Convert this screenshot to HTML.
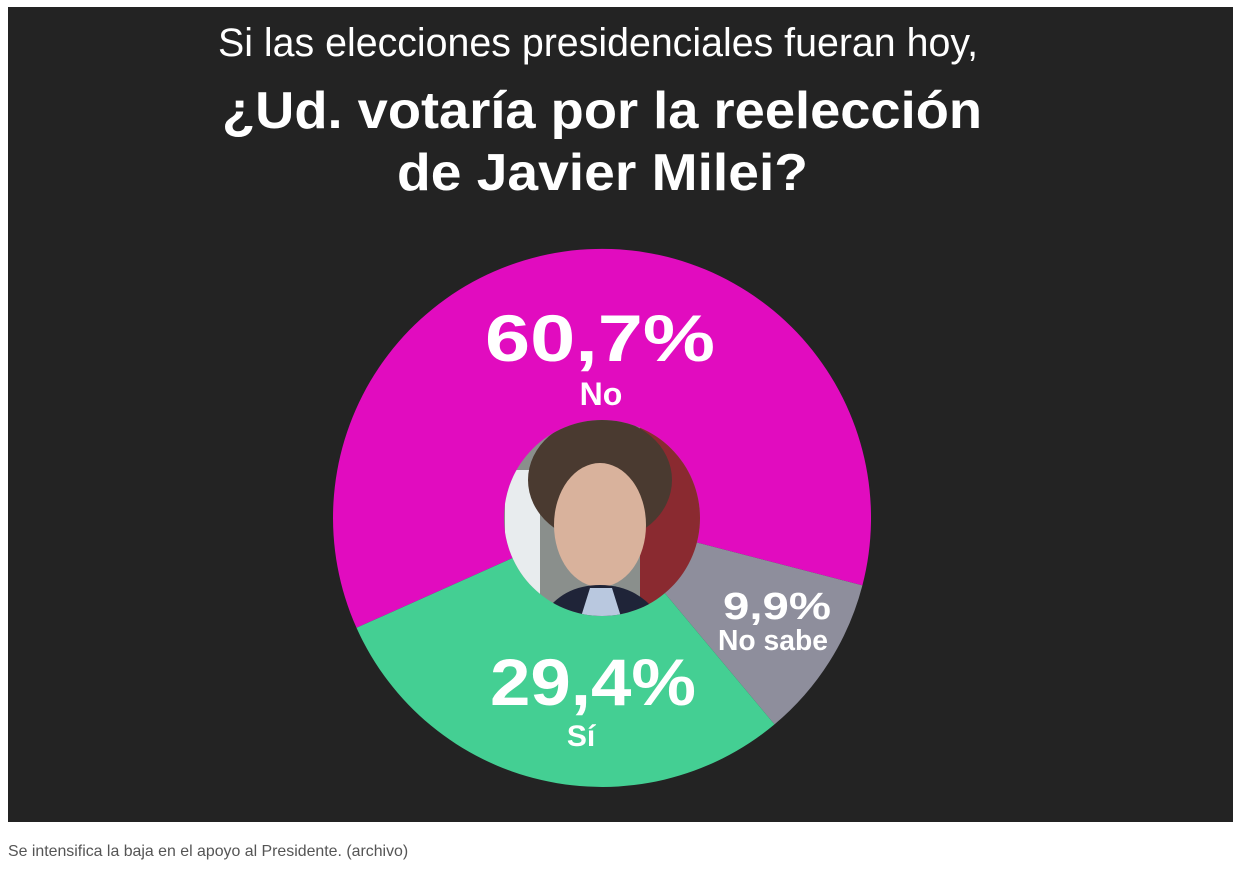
<!DOCTYPE html>
<html><head><meta charset="utf-8"><style>
html,body{margin:0;padding:0;background:#fff;width:1237px;height:880px;overflow:hidden}
svg{position:absolute;left:0;top:0}
.cap{position:absolute;left:8px;top:843px;font:15.9px "Liberation Sans",sans-serif;color:#555}
</style></head><body>
<svg width="1237" height="880" xmlns="http://www.w3.org/2000/svg">
<rect x="8" y="7" width="1225" height="815" fill="#232323"/>
<g font-family="Liberation Sans, sans-serif" fill="#fff" text-anchor="start">
<text x="218" y="56" font-size="40" textLength="760" lengthAdjust="spacingAndGlyphs">Si las elecciones presidenciales fueran hoy,</text>
<text x="222" y="128" font-size="52" font-weight="bold" textLength="760" lengthAdjust="spacingAndGlyphs">¿Ud. votaría por la reelección</text>
<text x="397" y="190" font-size="52" font-weight="bold" textLength="411" lengthAdjust="spacingAndGlyphs">de Javier Milei?</text>
</g>
<path d="M356.5,627.8 A269,269 0 1 1 862.4,585.4 L695.9,542.3 A97,97 0 1 0 513.5,557.6 Z" fill="#e10cbf"/>
<path d="M862.4,585.4 A269,269 0 0 1 774.5,724.4 L664.2,592.4 A97,97 0 0 0 695.9,542.3 Z" fill="#8e8e9c"/>
<path d="M774.5,724.4 A269,269 0 0 1 356.5,627.8 L513.5,557.6 A97,97 0 0 0 664.2,592.4 Z" fill="#44cf93"/>
<defs><clipPath id="c"><circle cx="602" cy="518" r="98"/></clipPath></defs>
<g clip-path="url(#c)">
<rect x="500" y="418" width="210" height="210" fill="#8a8f8c"/>
<rect x="640" y="418" width="70" height="210" fill="#8a2a30"/>
<rect x="505" y="470" width="35" height="130" fill="#e8ecee"/>
<ellipse cx="600" cy="480" rx="72" ry="62" fill="#4a3a30"/>
<ellipse cx="600" cy="525" rx="46" ry="62" fill="#d9b29c"/>
<path d="M540,620 Q560,585 600,585 Q640,585 662,620 Z" fill="#1f2438"/>
<path d="M580,620 L590,588 L612,588 L622,620 Z" fill="#b9c8df"/>
</g>
<g font-family="Liberation Sans, sans-serif" fill="#fff" font-weight="bold" text-anchor="middle">
<text x="600" y="361" font-size="66" textLength="230" lengthAdjust="spacingAndGlyphs">60,7%</text>
<text x="601" y="405" font-size="32">No</text>
<text x="593" y="705" font-size="66" textLength="206" lengthAdjust="spacingAndGlyphs">29,4%</text>
<text x="581" y="746" font-size="30">Sí</text>
<text x="777" y="619" font-size="38" textLength="108" lengthAdjust="spacingAndGlyphs">9,9%</text>
<text x="773" y="650" font-size="29" textLength="110" lengthAdjust="spacingAndGlyphs">No sabe</text>
</g>
</svg>
<div class="cap">Se intensifica la baja en el apoyo al Presidente. (archivo)</div>
</body></html>
